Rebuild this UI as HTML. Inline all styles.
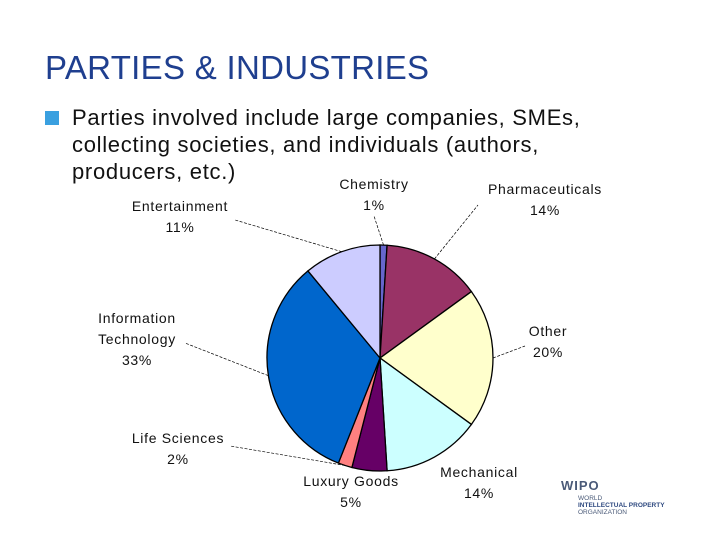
<!DOCTYPE html>
<html><head><meta charset="utf-8"><style>
body{margin:0;width:720px;height:540px;background:#fff;overflow:hidden;font-family:"Liberation Sans",sans-serif;position:relative}
.title{position:absolute;left:45px;top:49px;font-size:33px;color:#1f3f8f;letter-spacing:0.3px}
.bul{position:absolute;left:45px;top:111px;width:14px;height:14px;background:#3aa0e0}
.txt{position:absolute;left:72px;top:104px;font-size:22px;line-height:27px;color:#111;width:640px;letter-spacing:0.7px}
svg{position:absolute;left:0;top:0}
</style></head><body>
<div class="title">PARTIES &amp; INDUSTRIES</div>
<div class="bul"></div>
<div class="txt">Parties involved include large companies, SMEs,<br>collecting societies, and individuals (authors,<br>producers, etc.)</div>
<svg width="720" height="540" id="chart" font-family="Liberation Sans, sans-serif" font-size="14" fill="#111" letter-spacing="0.7">
<g id="slices"></g><g id="labels"></g>
<g letter-spacing="0">
<text x="561" y="490" font-size="13" font-weight="bold" fill="#4a5a78" letter-spacing="1">WIPO</text>
<text x="578" y="500" font-size="6.5" fill="#4a5a78">WORLD</text>
<text x="578" y="507" font-size="6.5" fill="#2f4a80" font-weight="bold">INTELLECTUAL PROPERTY</text>
<text x="578" y="514" font-size="6.5" fill="#4a5a78">ORGANIZATION</text>
</g>
</svg>
<script>
const categories=["Chemistry","Pharmaceuticals","Other","Mechanical","Luxury Goods","Life Sciences","Information Technology","Entertainment"];
const values=[1,14,20,14,5,2,33,11];
const colors=["#6666cc","#993366","#ffffcc","#ccffff","#660066","#ff8080","#0066cc","#ccccff"];
const labelLines=[["Chemistry","1%"],["Pharmaceuticals","14%"],["Other","20%"],["Mechanical","14%"],["Luxury Goods","5%"],["Life Sciences","2%"],["Information","Technology","33%"],["Entertainment","11%"]];
const labelPos=[[374,189],[545,194],[548,336],[479,477],[351,486],[178,443],[137,323],[180,211]];
const leaderEnd=[[374,216],[478,205],[525,346],[0,0],[0,0],[230,446],[185,343],[235,220]];
const cx=380,cy=358,r=113;
const NS="http://www.w3.org/2000/svg";
const total=values.reduce((a,b)=>a+b,0);
function pt(a,rr){return [cx+rr*Math.sin(a),cy-rr*Math.cos(a)];}
let a0=0;
const sg=document.getElementById('slices'),lg=document.getElementById('labels');
values.forEach((v,i)=>{
 const a1=a0+v/total*2*Math.PI;
 const p0=pt(a0,r),p1=pt(a1,r);
 const path=document.createElementNS(NS,'path');
 path.setAttribute('d',`M${cx},${cy}L${p0[0]},${p0[1]}A${r},${r} 0 ${a1-a0>Math.PI?1:0} 1 ${p1[0]},${p1[1]}Z`);
 path.setAttribute('fill',colors[i]);path.setAttribute('stroke','#000');path.setAttribute('stroke-width','1.3');
 
 
 sg.appendChild(path);
 const mid=(a0+a1)/2,e=leaderEnd[i];
 if(e[0]){
  const pm=pt(mid,r);
  const ln=document.createElementNS(NS,'line');
  ln.setAttribute('x1',pm[0]);ln.setAttribute('y1',pm[1]);ln.setAttribute('x2',e[0]);ln.setAttribute('y2',e[1]);
  ln.setAttribute('stroke','#000');ln.setAttribute('stroke-width','0.7');ln.setAttribute('stroke-dasharray','3,1.5');
  
  
  lg.appendChild(ln);
 }
 const t=document.createElementNS(NS,'text');
 t.setAttribute('text-anchor','middle');
 
 
 labelLines[i].forEach((s,j)=>{const ts=document.createElementNS(NS,'tspan');ts.setAttribute('x',labelPos[i][0]);ts.setAttribute('y',labelPos[i][1]+j*21);ts.textContent=s;t.appendChild(ts);});
 lg.appendChild(t);
 a0=a1;
});
</script>
</body></html>
